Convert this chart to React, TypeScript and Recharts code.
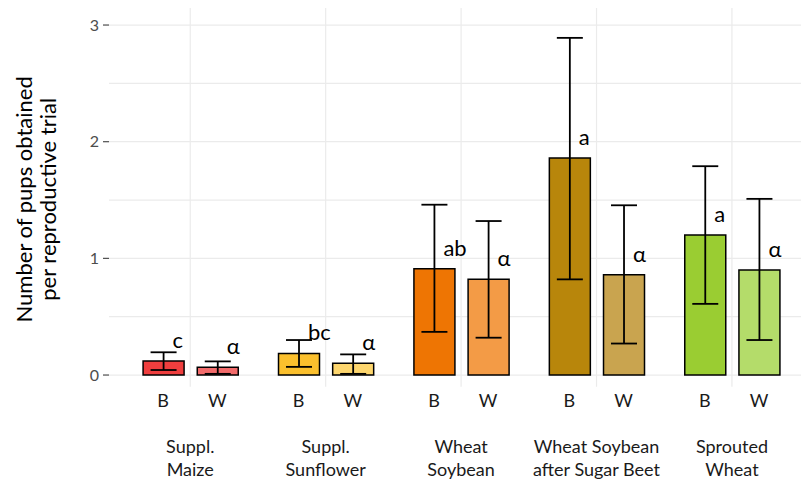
import React from 'react';
import {
  ComposedChart,
  Bar,
  XAxis,
  YAxis,
  CartesianGrid,
  ErrorBar,
  Cell,
  LabelList,
} from 'recharts';

// ---- data ----
const groupLines: string[][] = [
  ['Suppl.', 'Maize'],
  ['Suppl.', 'Sunflower'],
  ['Wheat', 'Soybean'],
  ['Wheat Soybean', 'after Sugar Beet'],
  ['Sprouted', 'Wheat'],
];
const sexLabels = ['B', 'W'];

const meanB = [0.12, 0.185, 0.91, 1.86, 1.2];
const lowB = [0.043, 0.07, 0.37, 0.82, 0.61];
const highB = [0.195, 0.3, 1.46, 2.89, 1.79];
const letterB = ['c', 'bc', 'ab', 'a', 'a'];

const meanW = [0.066, 0.1, 0.82, 0.86, 0.9];
const lowW = [0.01, 0.01, 0.32, 0.27, 0.3];
const highW = [0.117, 0.177, 1.32, 1.455, 1.51];
const letterW = ['α', 'α', 'α', 'α', 'α'];

const colorsB = ['#EF3E3E', '#FBC02D', '#EE7503', '#B8860B', '#9ACD32'];
const colorsW = ['#F26B6B', '#FDD66E', '#F39B46', '#C9A44F', '#B4DC6A'];

const yTicks = [0, 1, 2, 3];
const gridY = [0, 0.5, 1, 1.5, 2, 2.5, 3];

// ---- layout constants ----
const DODGE = 0.2;
const FONT = 'Lato, "Open Sans", sans-serif';

type Row = {
  pos: number;
  sex: string;
  mean: number;
  err: [number, number];
  letter: string;
  color: string;
};

const rows: Row[] = [];
groupLines.forEach((_, g) => {
  rows.push({
    pos: g + 1 - DODGE,
    sex: sexLabels[0],
    mean: meanB[g],
    err: [meanB[g] - lowB[g], highB[g] - meanB[g]],
    letter: letterB[g],
    color: colorsB[g],
  });
  rows.push({
    pos: g + 1 + DODGE,
    sex: sexLabels[1],
    mean: meanW[g],
    err: [meanW[g] - lowW[g], highW[g] - meanW[g]],
    letter: letterW[g],
    color: colorsW[g],
  });
});

const barTicks = rows.map((r) => r.pos);
const groupTicks = groupLines.map((_, i) => i + 1);

const SexTick = (props: any) => {
  const { x, y, payload } = props;
  const row = rows.find((r) => Math.abs(r.pos - payload.value) < 1e-6);
  return (
    <text
      x={x}
      y={y + 20}
      textAnchor="middle"
      fontFamily={FONT}
      fontSize={18}
      fill="#1a1a1a"
    >
      {row ? row.sex : ''}
    </text>
  );
};

const GroupTick = (props: any) => {
  const { x, y, payload } = props;
  const lines = groupLines[Math.round(payload.value) - 1] || [];
  return (
    <g>
      {lines.map((l, i) => (
        <text
          key={i}
          x={x}
          y={y + 26.5 + i * 23}
          textAnchor="middle"
          fontFamily={FONT}
          fontSize={18}
          fill="#1a1a1a"
        >
          {l}
        </text>
      ))}
    </g>
  );
};

const YTitle = (props: any) => {
  const vb = props.viewBox || { x: 0, y: 8, width: 109, height: 379 };
  const cy = vb.y + vb.height / 2 + 2;
  const lines = ['Number of pups obtained', 'per reproductive trial'];
  const xs = [32, 56];
  return (
    <g>
      {lines.map((l, i) => (
        <text
          key={i}
          x={xs[i]}
          y={cy}
          transform={`rotate(-90, ${xs[i]}, ${cy})`}
          textAnchor="middle"
          fontFamily={FONT}
          fontSize={22}
          fill="#000"
        >
          {l}
        </text>
      ))}
    </g>
  );
};

const LetterLabel = (props: any) => {
  const { x, y, width, value } = props;
  return (
    <text
      x={x + width / 2 + 9}
      y={y - 13}
      textAnchor="start"
      fontFamily={FONT}
      fontSize={22}
      fill="#000"
    >
      {value}
    </text>
  );
};

export default function App() {
  return (
    <div
      style={{
        position: 'absolute',
        left: 0,
        top: 0,
        width: 801,
        height: 480,
        background: '#fff',
      }}
    >
      <ComposedChart
        width={801}
        height={480}
        data={rows}
        margin={{ top: 8, right: 0, bottom: 0, left: 0 }}
      >
        <CartesianGrid
          xAxisId="bars"
          stroke="#ebebeb"
          strokeWidth={1.2}
          verticalValues={groupTicks}
          horizontalValues={gridY}
        />
        <XAxis
          xAxisId="bars"
          dataKey="pos"
          type="number"
          domain={[0.4, 5.51]}
          ticks={barTicks}
          allowDataOverflow
          axisLine={false}
          tickLine={false}
          tickSize={0}
          tickMargin={0}
          height={40}
          interval={0}
          tick={<SexTick />}
        />
        <XAxis
          xAxisId="groups"
          dataKey="pos"
          type="number"
          domain={[0.4, 5.51]}
          ticks={groupTicks}
          allowDataOverflow
          axisLine={false}
          tickLine={false}
          tickSize={0}
          tickMargin={0}
          height={53.3}
          interval={0}
          tick={<GroupTick />}
        />
        <YAxis
          type="number"
          domain={[-0.1, 3.146]}
          ticks={yTicks}
          allowDataOverflow
          width={109}
          axisLine={false}
          tickLine={{ stroke: '#4d4d4d', strokeWidth: 1.2 }}
          tickSize={6}
          tickMargin={4}
          tick={{ fill: '#4d4d4d', fontSize: 16, fontFamily: FONT }}
          label={{ content: <YTitle /> }}
        />
        <Bar
          xAxisId="bars"
          dataKey="mean"
          barSize={41}
          stroke="#000"
          strokeWidth={1.5}
          isAnimationActive={false}
        >
          {rows.map((r, i) => (
            <Cell key={i} fill={r.color} />
          ))}
          <ErrorBar
            dataKey="err"
            direction="y"
            width={13}
            stroke="#000"
            strokeWidth={1.8}
            isAnimationActive={false}
          />
          <LabelList dataKey="letter" content={<LetterLabel />} />
        </Bar>
      </ComposedChart>
    </div>
  );
}
